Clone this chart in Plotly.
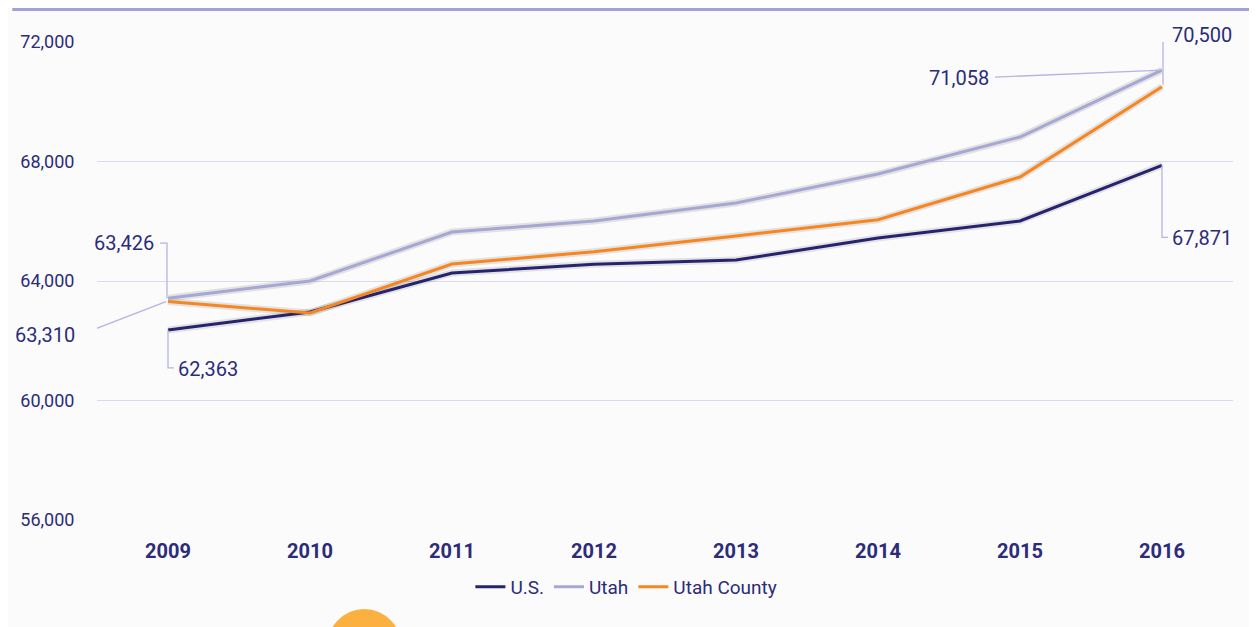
import plotly.graph_objects as go

years = ["2009", "2010", "2011", "2012", "2013", "2014", "2015", "2016"]
us = [62363, 62960, 64270, 64560, 64700, 65440, 66010, 67871]
utah = [63426, 64000, 65640, 66010, 66610, 67580, 68820, 71058]
utah_county = [63310, 62930, 64570, 64980, 65510, 66050, 67480, 70500]

series = [("U.S.", us, "#26236f"), ("Utah", utah, "#a6a7d5"), ("Utah County", utah_county, "#f7861f")]
TXT = "#2c2c78"
LEAD = "#b4b5e2"
FONT = "Roboto"

fig = go.Figure()
for name, vals, col in series:
    fig.add_trace(go.Scatter(x=years, y=vals, mode="lines", showlegend=False, hoverinfo="skip",
                             line=dict(color="rgba(60,60,60,0.13)", width=7)))
for name, vals, col in series:
    fig.add_trace(go.Scatter(x=years, y=vals, mode="lines", name=name,
                             line=dict(color=col, width=3)))

shapes = []
labels = []

def leader(idx, yv, path, text, tx, ty, anchor):
    shapes.append(dict(type="path", xref="x", yref="y", xsizemode="pixel", ysizemode="pixel",
                       xanchor=idx, yanchor=yv, path=path, line=dict(color=LEAD, width=1.3)))
    labels.append(dict(x=idx, y=yv, text=text, tx=tx, ty=ty, anchor=anchor))

i0, i1 = 0, len(years) - 1
leader(i0, utah[0], "M-1,0 L-1,55 L-8,55", f"{utah[0]:,}", -12, 55, "right")
leader(i0, utah_county[0], "M-2,0 L-85,-32", f"{utah_county[0]:,}", -91, -33, "right")
leader(i0, us[0], "M0,0 L0,-38 L6,-38", f"{us[0]:,}", 8, -39, "left")
leader(i1, utah[-1], "M0,0 L-167,-7", f"{utah[-1]:,}", -171, -8, "right")
leader(i1, utah_county[-1], "M1,2 L1,52 L6,52", f"{utah_county[-1]:,}", 8, 52, "left")
leader(i1, us[-1], "M0,0 L0,-72 L6,-72", f"{us[-1]:,}", 8, -73, "left")

# decorative top rule
shapes.append(dict(type="line", xref="paper", yref="paper", x0=-0.0746, x1=1.03, y0=1.068, y1=1.068,
                   line=dict(color="#a3a3d3", width=3)))
# decorative orange blob at bottom
shapes.append(dict(type="circle", xref="paper", yref="paper", xsizemode="pixel", ysizemode="pixel",
                   xanchor=0.2353, yanchor=-0.27, x0=-38, x1=38, y0=-40, y1=40,
                   fillcolor="#fbb040", line=dict(width=0)))

fig.update_layout(
    width=1249, height=619,
    margin=dict(l=86, r=24, t=34, b=107),
    paper_bgcolor="#fbfbfb", plot_bgcolor="#fbfbfb",
    font=dict(family=FONT, color=TXT),
    shapes=shapes,
    showlegend=True,
    legend=dict(orientation="h", x=0.466, xanchor="center", y=-0.14, yanchor="middle",
                font=dict(family=FONT, size=19, color=TXT), bgcolor="rgba(0,0,0,0)",
                itemwidth=30, tracegroupgap=0),
    xaxis=dict(type="category", range=[-0.5, 7.5], showgrid=False, zeroline=False, showline=False,
               tickfont=dict(family=FONT, size=20, color=TXT, weight="bold"),
               ticks="outside", ticklen=13, tickcolor="rgba(0,0,0,0)"),
    yaxis=dict(range=[56000, 72000], tickvals=[56000, 60000, 64000, 68000, 72000], tickformat=",",
               showgrid=True, gridcolor="#d9d9f0", gridwidth=1, zeroline=False, showline=False,
               tickfont=dict(family=FONT, size=18, color=TXT),
               ticks="outside", ticklen=18, tickcolor="rgba(0,0,0,0)"),
)

for lb in labels:
    fig.add_annotation(x=lb["x"], y=lb["y"], xref="x", yref="y", text=lb["text"], showarrow=False,
                       xanchor=lb["anchor"], yanchor="middle", xshift=lb["tx"], yshift=lb["ty"],
                       font=dict(family=FONT, size=20, color=TXT))

fig.write_html("out.html")
